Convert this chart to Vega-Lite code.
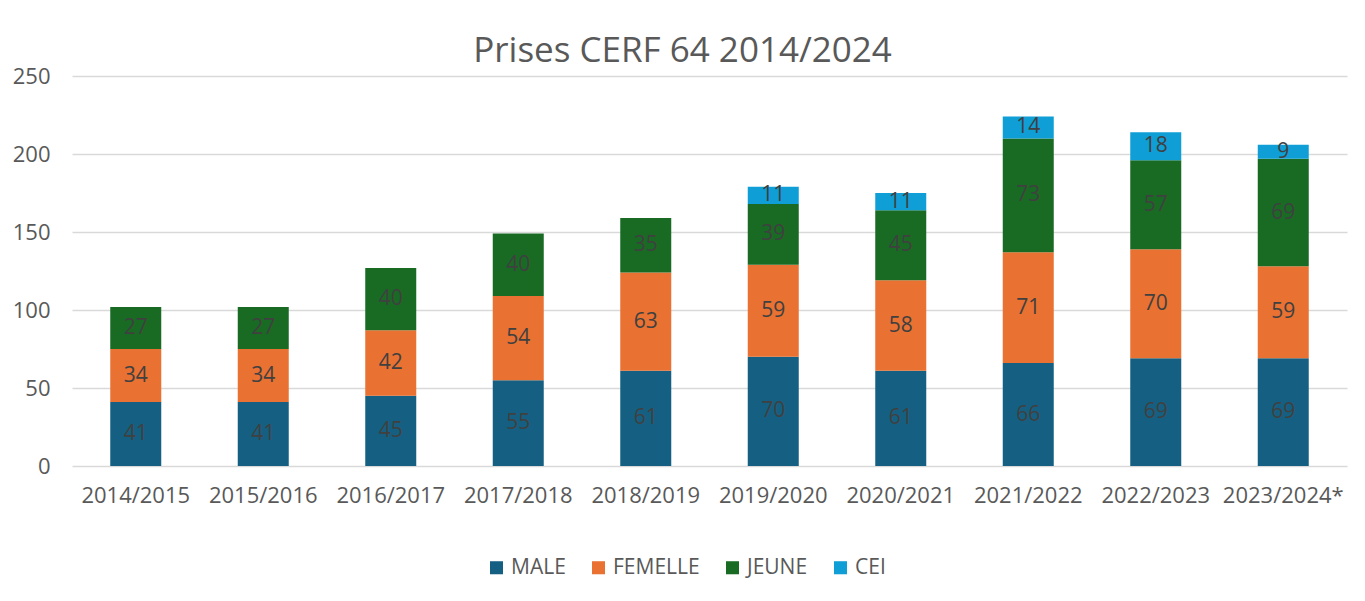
{
  "$schema": "https://vega.github.io/schema/vega-lite/v6.json",
  "autosize": "none",
  "width": 1275,
  "height": 390,
  "padding": {"left": 72, "top": 76, "right": 18, "bottom": 135},
  "background": "white",
  "title": {"text": "Prises CERF 64 2014/2024", "font": "Open Sans", "fontSize": 35, "fontWeight": "normal", "color": "#595959", "offset": -4, "dx": -27, "anchor": "middle"},
  "data": {"values": [
    {"saison": "2014/2015", "type": "MALE", "n": 41},
    {"saison": "2014/2015", "type": "FEMELLE", "n": 34},
    {"saison": "2014/2015", "type": "JEUNE", "n": 27},
    {"saison": "2015/2016", "type": "MALE", "n": 41},
    {"saison": "2015/2016", "type": "FEMELLE", "n": 34},
    {"saison": "2015/2016", "type": "JEUNE", "n": 27},
    {"saison": "2016/2017", "type": "MALE", "n": 45},
    {"saison": "2016/2017", "type": "FEMELLE", "n": 42},
    {"saison": "2016/2017", "type": "JEUNE", "n": 40},
    {"saison": "2017/2018", "type": "MALE", "n": 55},
    {"saison": "2017/2018", "type": "FEMELLE", "n": 54},
    {"saison": "2017/2018", "type": "JEUNE", "n": 40},
    {"saison": "2018/2019", "type": "MALE", "n": 61},
    {"saison": "2018/2019", "type": "FEMELLE", "n": 63},
    {"saison": "2018/2019", "type": "JEUNE", "n": 35},
    {"saison": "2019/2020", "type": "MALE", "n": 70},
    {"saison": "2019/2020", "type": "FEMELLE", "n": 59},
    {"saison": "2019/2020", "type": "JEUNE", "n": 39},
    {"saison": "2019/2020", "type": "CEI", "n": 11},
    {"saison": "2020/2021", "type": "MALE", "n": 61},
    {"saison": "2020/2021", "type": "FEMELLE", "n": 58},
    {"saison": "2020/2021", "type": "JEUNE", "n": 45},
    {"saison": "2020/2021", "type": "CEI", "n": 11},
    {"saison": "2021/2022", "type": "MALE", "n": 66},
    {"saison": "2021/2022", "type": "FEMELLE", "n": 71},
    {"saison": "2021/2022", "type": "JEUNE", "n": 73},
    {"saison": "2021/2022", "type": "CEI", "n": 14},
    {"saison": "2022/2023", "type": "MALE", "n": 69},
    {"saison": "2022/2023", "type": "FEMELLE", "n": 70},
    {"saison": "2022/2023", "type": "JEUNE", "n": 57},
    {"saison": "2022/2023", "type": "CEI", "n": 18},
    {"saison": "2023/2024*", "type": "MALE", "n": 69},
    {"saison": "2023/2024*", "type": "FEMELLE", "n": 59},
    {"saison": "2023/2024*", "type": "JEUNE", "n": 69},
    {"saison": "2023/2024*", "type": "CEI", "n": 9}
  ]},
  "transform": [
    {"calculate": "indexof(['MALE','FEMELLE','JEUNE','CEI'], datum.type)", "as": "rang"}
  ],
  "encoding": {
    "x": {"field": "saison", "type": "nominal", "sort": null, "title": null,
      "scale": {"paddingInner": 0.6, "paddingOuter": 0.3},
      "axis": {"labelAngle": 0, "domain": false, "ticks": false, "labelPadding": 19, "labelFont": "Open Sans", "labelFontSize": 22, "labelColor": "#595959"}},
    "y": {"field": "n", "type": "quantitative", "stack": "zero", "title": null,
      "scale": {"domain": [0, 250]},
      "axis": {"values": [0, 50, 100, 150, 200, 250], "domain": false, "ticks": false, "labelPadding": 22, "labelFont": "Open Sans", "labelFontSize": 22, "labelColor": "#595959", "gridColor": "#d9d9d9", "gridWidth": 1.5}},
    "order": {"field": "rang", "type": "quantitative", "sort": "ascending"}
  },
  "layer": [
    {"mark": {"type": "bar"},
      "encoding": {
        "color": {"field": "type", "type": "nominal", "sort": ["MALE", "FEMELLE", "JEUNE", "CEI"],
          "scale": {"domain": ["MALE", "FEMELLE", "JEUNE", "CEI"], "range": ["#156082", "#E97132", "#196B24", "#0F9ED5"]},
          "legend": {"title": null, "orient": "none", "direction": "horizontal", "legendX": 414, "legendY": 481, "symbolType": "square", "symbolSize": 170, "symbolStrokeWidth": 0, "labelFont": "Open Sans", "labelFontSize": 21, "labelColor": "#595959", "columnPadding": 22, "labelOffset": 4}}
      }},
    {"mark": {"type": "text", "font": "Open Sans", "fontSize": 21, "baseline": "middle"},
      "encoding": {
        "y": {"field": "n", "type": "quantitative", "stack": "zero", "bandPosition": 0.5},
        "text": {"field": "n", "type": "quantitative"},
        "color": {"field": "type", "type": "nominal", "sort": ["MALE", "FEMELLE", "JEUNE", "CEI"],
          "scale": {"domain": ["MALE", "FEMELLE", "JEUNE", "CEI"], "range": ["#404040", "#404040", "#404040", "#404040"]},
          "legend": null}
      }}
  ],
  "resolve": {"scale": {"color": "independent"}},
  "config": {"view": {"stroke": null}}
}
